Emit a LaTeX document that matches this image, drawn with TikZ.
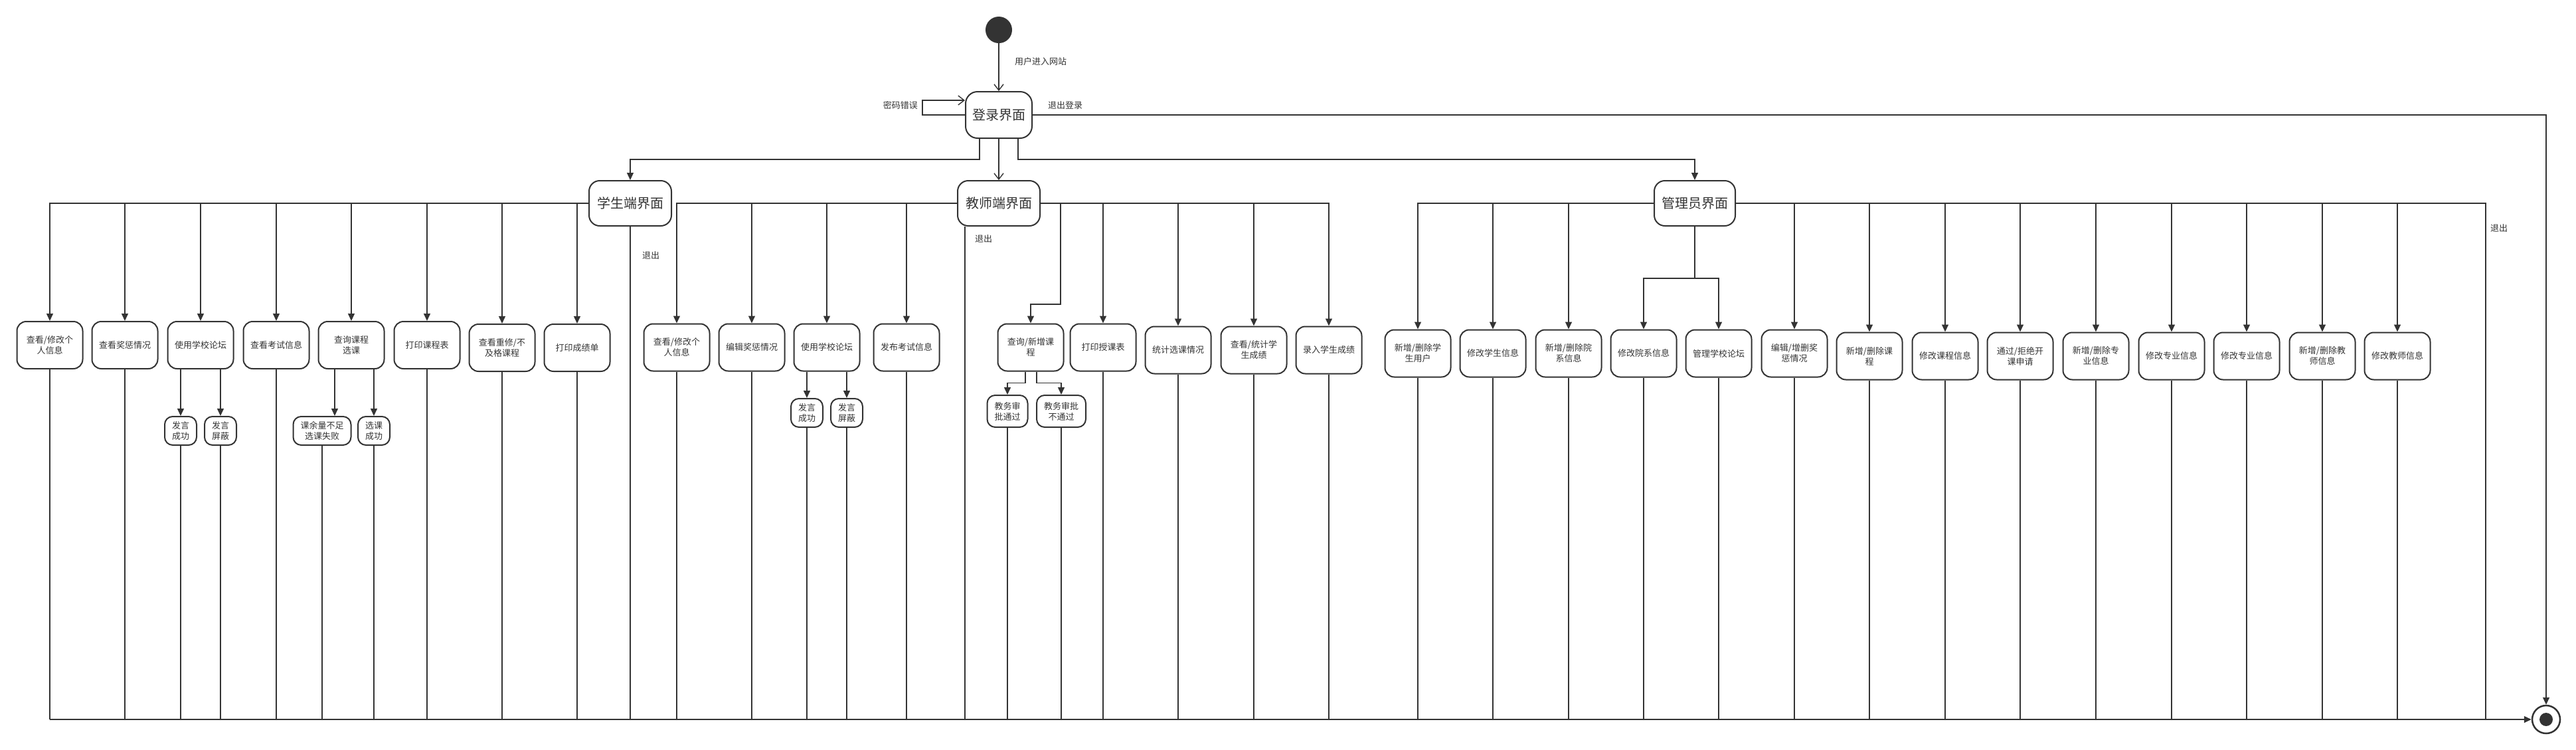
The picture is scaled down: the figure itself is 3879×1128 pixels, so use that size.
\documentclass[tikz,border=0pt]{standalone}
\usepackage{fontspec}
\setmainfont{Noto Sans CJK SC}
\usetikzlibrary{arrows.meta,positioning,calc}
\definecolor{ink}{HTML}{333333}

\begin{document}
\begin{tikzpicture}[
    x=1pt, y=-1pt,
    act/.style={draw=ink, line width=2pt, rounded corners=14pt, align=center, text=ink,
        font=\fontsize{13}{16}\selectfont, minimum width=99pt, minimum height=71pt, inner xsep=10pt},
    role/.style={act, font=\fontsize{20}{24}\selectfont, minimum width=124pt, minimum height=68pt, rounded corners=16pt},
    sub/.style={act, minimum width=0pt, minimum height=43pt, inner xsep=11pt, rounded corners=12pt},
    flow/.style={draw=ink, line width=1.4pt, -{Triangle[length=11pt, width=10pt]}},
    openflow/.style={draw=ink, line width=1.4pt, -{Straight Barb[length=9pt, width=14pt, line width=1.4pt]}},
    wire/.style={draw=ink, line width=1.4pt},
    lbl/.style={font=\fontsize{13}{16}\selectfont, text=ink, inner sep=0pt}
]
    \useasboundingbox (0,0) rectangle (3879,1128);

    % start, login and the end state
    \node[circle, fill=ink, minimum size=40pt, inner sep=0pt] (init) at (1504,45) {};
    \node[role, minimum width=100pt, minimum height=70pt, rounded corners=18pt] (login) at (1504,173) {登录界面};
    \node[circle, draw=ink, line width=2.5pt, minimum size=42pt, inner sep=0pt] (fin) at (3834,1083) {};
    \node[circle, fill=ink, minimum size=20pt, inner sep=0pt] (findot) at (fin) {};

    \draw[openflow] (init) -- (login);
    \node[lbl, anchor=west] (enter) at (1528,93) {用户进入网站};

    \coordinate (loopc) at (1389,173);
    \draw[openflow] (login.west) -- (loopc) |- ([yshift=22pt]login.west);
    \node[lbl, anchor=east] (wrongpw) at (1382,159) {密码错误};

    \draw[flow] (login.east) -| (fin.north);
    \node[lbl, anchor=west] (logout) at (1578,159) {退出登录};

    % the three role screens
    \node[role] (stu) at (949,306) {学生端界面};
    \node[role] (tea) at (1504,306) {教师端界面};
    \node[role, minimum width=122pt] (adm) at (2552,306) {管理员界面};

    \draw[flow] ([xshift=-29pt]login.south) -- ++(0,31) -| (stu.north);
    \draw[openflow] (login) -- (tea);
    \draw[flow] ([xshift=29pt]login.south) -- ++(0,31) -| (adm.north);

    % common exit bus
    \coordinate (busL) at (75,1083);
    \draw[flow] (busL) -- (fin.west);

    % student screen
    \node[act] (s1) at (75,519.5) {查看/修改个\\人信息};
    \node[act] (s2) at (188,519.5) {查看奖惩情况};
    \node[act] (s3) at (302,519.5) {使用学校论坛};
    \node[act] (s4) at (416,519.5) {查看考试信息};
    \node[act] (s5) at (529,519.5) {查询课程\\选课};
    \node[act] (s6) at (643,519.5) {打印课程表};
    \node[act] (s7) at (756,523.5) {查看重修/不\\及格课程};
    \node[act] (s8) at (869,523.5) {打印成绩单};

    \node[sub] (s3a) at (272,648.5) {发言\\成功};
    \node[sub] (s3b) at (332,648.5) {发言\\屏蔽};
    \node[sub] (s5a) at (485,648.5) {课余量不足\\选课失败};
    \node[sub] (s5b) at (563,648.5) {选课\\成功};

    \draw[flow] (stu.west) -| (s1.north);
    \draw[flow] (stu.west) -| (s2.north);
    \draw[flow] (stu.west) -| (s3.north);
    \draw[flow] (stu.west) -| (s4.north);
    \draw[flow] (stu.west) -| (s5.north);
    \draw[flow] (stu.west) -| (s6.north);
    \draw[flow] (stu.west) -| (s7.north);
    \draw[flow] (stu.west) -| (s8.north);

    \draw[flow] (s3.south -| s3a) -- (s3a);
    \draw[flow] (s3.south -| s3b) -- (s3b);
    \draw[flow] ([xshift=-25pt]s5.south) -- ([xshift=-25pt]s5.south |- s5a.north);
    \draw[flow] (s5.south -| s5b) -- (s5b);

    \draw[wire] (s1.south) -- (s1.south |- busL);
    \draw[wire] (s2.south) -- (s2.south |- busL);
    \draw[wire] (s3a.south) -- (s3a.south |- busL);
    \draw[wire] (s3b.south) -- (s3b.south |- busL);
    \draw[wire] (s4.south) -- (s4.south |- busL);
    \draw[wire] (s5a.south) -- (s5a.south |- busL);
    \draw[wire] (s5b.south) -- (s5b.south |- busL);
    \draw[wire] (s6.south) -- (s6.south |- busL);
    \draw[wire] (s7.south) -- (s7.south |- busL);
    \draw[wire] (s8.south) -- (s8.south |- busL);

    \draw[wire] (stu.south) -- (stu.south |- busL);
    \node[lbl, anchor=west] (stuexit) at (967,385) {退出};

    % teacher screen
    \node[act] (t1) at (1019,523) {查看/修改个\\人信息};
    \node[act] (t2) at (1132,523) {编辑奖惩情况};
    \node[act] (t3) at (1245,523) {使用学校论坛};
    \node[act] (t4) at (1365,523) {发布考试信息};
    \node[act] (t5) at (1552,523) {查询/新增课\\程};
    \node[act] (t6) at (1661,523) {打印授课表};
    \node[act] (t7) at (1774,527) {统计选课情况};
    \node[act] (t8) at (1888,527) {查看/统计学\\生成绩};
    \node[act] (t9) at (2001,527) {录入学生成绩};

    \node[sub] (t3a) at (1215,621.5) {发言\\成功};
    \node[sub] (t3b) at (1275,621.5) {发言\\屏蔽};
    \node[sub, minimum height=48pt] (t5a) at (1517,619) {教务审\\批通过};
    \node[sub, minimum height=48pt] (t5b) at (1598,619) {教务审批\\不通过};

    \coordinate (t5bend) at (1597,458);
    \draw[flow] (tea.west) -| (t1.north);
    \draw[flow] (tea.west) -| (t2.north);
    \draw[flow] (tea.west) -| (t3.north);
    \draw[flow] (tea.west) -| (t4.north);
    \draw[flow] (tea.east) -| (t5bend) -| (t5.north);
    \draw[flow] (tea.east) -| (t6.north);
    \draw[flow] (tea.east) -| (t7.north);
    \draw[flow] (tea.east) -| (t8.north);
    \draw[flow] (tea.east) -| (t9.north);

    \draw[flow] (t3.south -| t3a) -- (t3a);
    \draw[flow] (t3.south -| t3b) -- (t3b);
    \draw[flow] ([xshift=-8pt]t5.south) -- ++(0,17) -| (t5a.north);
    \draw[flow] ([xshift=9pt]t5.south) -- ++(0,17) -| (t5b.north);

    \draw[wire] (t1.south) -- (t1.south |- busL);
    \draw[wire] (t2.south) -- (t2.south |- busL);
    \draw[wire] (t3a.south) -- (t3a.south |- busL);
    \draw[wire] (t3b.south) -- (t3b.south |- busL);
    \draw[wire] (t4.south) -- (t4.south |- busL);
    \draw[wire] (t5a.south) -- (t5a.south |- busL);
    \draw[wire] (t5b.south) -- (t5b.south |- busL);
    \draw[wire] (t6.south) -- (t6.south |- busL);
    \draw[wire] (t7.south) -- (t7.south |- busL);
    \draw[wire] (t8.south) -- (t8.south |- busL);
    \draw[wire] (t9.south) -- (t9.south |- busL);

    \draw[wire] ([xshift=-51pt]tea.south) -- ([xshift=-51pt]tea.south |- busL);
    \node[lbl, anchor=west] (teaexit) at (1468,360) {退出};

    % administrator screen
    \node[act] (a1) at (2135,532) {新增/删除学\\生用户};
    \node[act] (a2) at (2248,532) {修改学生信息};
    \node[act] (a3) at (2362,532) {新增/删除院\\系信息};
    \node[act] (a4) at (2475,532) {修改院系信息};
    \node[act] (a5) at (2588,532) {管理学校论坛};
    \node[act] (a6) at (2702,532) {编辑/增删奖\\惩情况};
    \node[act] (a7) at (2815,536) {新增/删除课\\程};
    \node[act] (a8) at (2929,536) {修改课程信息};
    \node[act] (a9) at (3042,536) {通过/拒绝开\\课申请};
    \node[act] (a10) at (3156,536) {新增/删除专\\业信息};
    \node[act] (a11) at (3270,536) {修改专业信息};
    \node[act] (a12) at (3383,536) {修改专业信息};
    \node[act] (a13) at (3497,536) {新增/删除教\\师信息};
    \node[act] (a14) at (3610,536) {修改教师信息};

    \draw[flow] (adm.west) -| (a1.north);
    \draw[flow] (adm.west) -| (a2.north);
    \draw[flow] (adm.west) -| (a3.north);
    \draw[flow] (adm.south) -- ++(0,78) -| (a4.north);
    \draw[flow] (adm.south) -- ++(0,78) -| (a5.north);
    \draw[flow] (adm.east) -| (a6.north);
    \draw[flow] (adm.east) -| (a7.north);
    \draw[flow] (adm.east) -| (a8.north);
    \draw[flow] (adm.east) -| (a9.north);
    \draw[flow] (adm.east) -| (a10.north);
    \draw[flow] (adm.east) -| (a11.north);
    \draw[flow] (adm.east) -| (a12.north);
    \draw[flow] (adm.east) -| (a13.north);
    \draw[flow] (adm.east) -| (a14.north);

    \draw[wire] (a1.south) -- (a1.south |- busL);
    \draw[wire] (a2.south) -- (a2.south |- busL);
    \draw[wire] (a3.south) -- (a3.south |- busL);
    \draw[wire] (a4.south) -- (a4.south |- busL);
    \draw[wire] (a5.south) -- (a5.south |- busL);
    \draw[wire] (a6.south) -- (a6.south |- busL);
    \draw[wire] (a7.south) -- (a7.south |- busL);
    \draw[wire] (a8.south) -- (a8.south |- busL);
    \draw[wire] (a9.south) -- (a9.south |- busL);
    \draw[wire] (a10.south) -- (a10.south |- busL);
    \draw[wire] (a11.south) -- (a11.south |- busL);
    \draw[wire] (a12.south) -- (a12.south |- busL);
    \draw[wire] (a13.south) -- (a13.south |- busL);
    \draw[wire] (a14.south) -- (a14.south |- busL);

    \coordinate (admexit) at (3743,1083);
    \draw[wire] (adm.east) -| (admexit);
    \node[lbl, anchor=west] (admexitlbl) at (3750,344) {退出};
\end{tikzpicture}
\end{document}
